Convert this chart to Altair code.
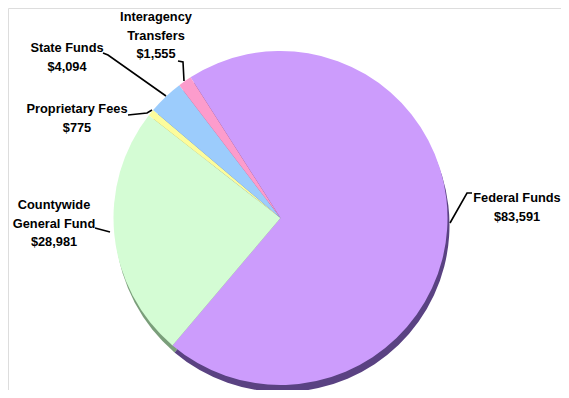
import altair as alt
import pandas as pd
import math

# ---- data ----
categories = ["Federal Funds", "Countywide General Fund", "Proprietary Fees", "State Funds", "Interagency Transfers"]
values = [83591, 28981, 775, 4094, 1555]
colors = ["#CC9CFC", "#D4FCD4", "#FCFC9C", "#9CCCFC", "#FC9CCC"]
shadow_colors = ["#5A4282", "#7A9E7A", "#A0A060", "#5A7AA0", "#A05A7A"]
label_lines = [
    ["Federal Funds", "$83,591"],
    ["Countywide", "General Fund", "$28,981"],
    ["Proprietary Fees", "$775"],
    ["State Funds", "$4,094"],
    ["Interagency", "Transfers", "$1,555"],
]

# ---- layout (pixels, chart coordinates) ----
W, H = 553, 382
CX, CY, R = 272.5, 210, 167
start = math.radians(327.4)
label_centers = [(509, 190), (46, 197), (69, 101), (59, 40), (148, 9)]
line_step = 18.5
leaders = [
    [(464, 185), (459, 185), (442, 215)],
    [(87, 220), (102, 224)],
    [(120, 107), (139, 105), (144, 102)],
    [(95, 45), (100, 47), (158, 88)],
    [(170, 53), (175, 54), (176, 73)],
]

df = pd.DataFrame({
    "cat": categories,
    "value": values,
    "order": list(range(len(categories))),
})

theta_enc = alt.Theta("value:Q", stack=True,
                      scale=alt.Scale(range=[start, start + 2 * math.pi]))
order_enc = alt.Order("order:Q")

shadow = alt.Chart(df).mark_arc(outerRadius=R, strokeWidth=0).encode(
    theta=theta_enc,
    order=order_enc,
    color=alt.Color("cat:N", scale=alt.Scale(domain=categories, range=shadow_colors), legend=None),
    x=alt.value(CX + 2),
    y=alt.value(CY + 7),
)

pie = alt.Chart(df).mark_arc(outerRadius=R, strokeWidth=0).encode(
    theta=theta_enc,
    order=order_enc,
    color=alt.Color("cat:N", scale=alt.Scale(domain=categories, range=colors), legend=None),
    x=alt.value(CX),
    y=alt.value(CY),
)

rows = []
for cat, lines, (lx, ly) in zip(categories, label_lines, label_centers):
    for i, t in enumerate(lines):
        rows.append({"cat": cat, "text": t, "x": lx, "y": ly + i * line_step})
tdf = pd.DataFrame(rows)

texts = alt.Chart(tdf).mark_text(
    font="Liberation Sans, Arial",
    fontWeight="bold", fontSize=12.8,
    color="black", align="center", baseline="middle"
).encode(
    x=alt.X("x:Q", scale=None, axis=None),
    y=alt.Y("y:Q", scale=None, axis=None),
    text="text:N",
)

lrows = []
for cat, pts in zip(categories, leaders):
    for i, (px, py) in enumerate(pts):
        lrows.append({"cat": cat, "i": i, "x": px, "y": py})
ldf = pd.DataFrame(lrows)

lines = alt.Chart(ldf).mark_line(color="black", strokeWidth=1.6).encode(
    x=alt.X("x:Q", scale=None, axis=None),
    y=alt.Y("y:Q", scale=None, axis=None),
    detail="cat:N",
    order="i:Q",
)

chart = alt.layer(shadow, pie, lines, texts).resolve_scale(color="independent").properties(
    width=W, height=H, padding=0, autosize=alt.AutoSizeParams(type="none")
).configure_view(strokeWidth=0).configure(background="transparent")

chart.save("out.html", embed_options={"renderer": "svg", "actions": False})
